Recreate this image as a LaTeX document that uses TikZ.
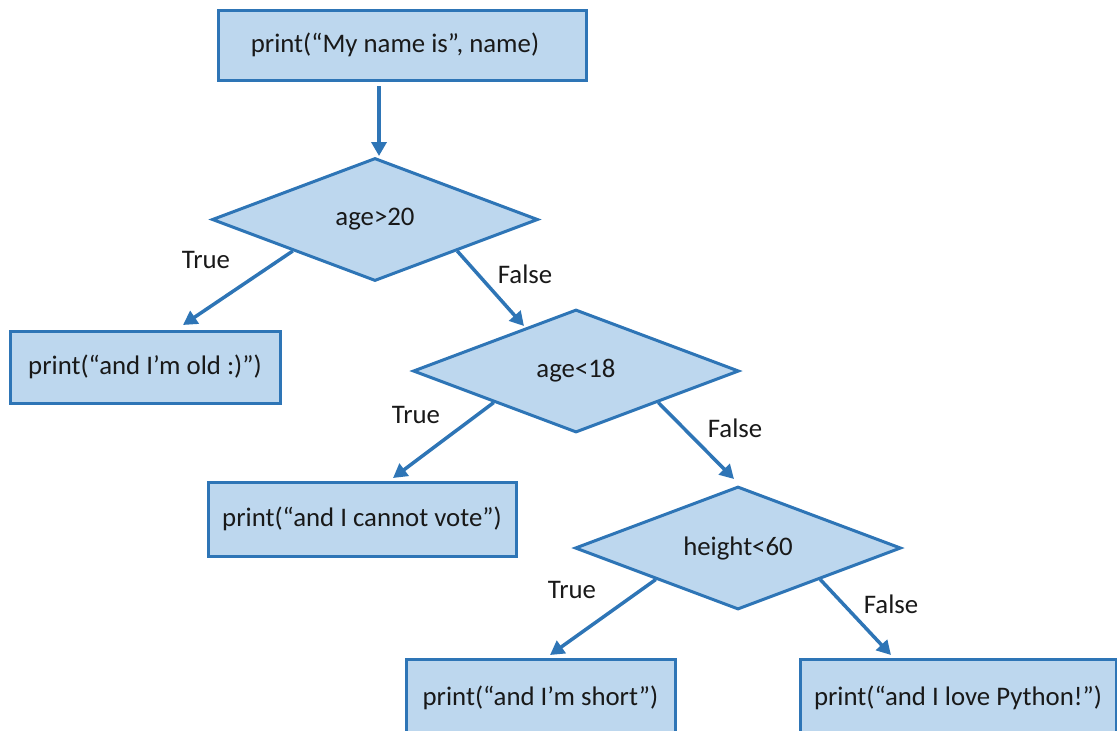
\documentclass[tikz,border=0pt]{standalone}
\usepackage{fontspec}
\setmainfont{Carlito}
\usetikzlibrary{shapes.geometric,arrows.meta}
\definecolor{boxfill}{RGB}{189,215,238}
\definecolor{boxline}{RGB}{46,117,182}
\begin{document}
\begin{tikzpicture}[x=0.5pt,y=-0.5pt,
  txt/.style={font=\fontsize{13.4}{15}\selectfont, text=black!90},
  pbox/.style={txt, draw=boxline, fill=boxfill, line width=1.5pt, rectangle, inner sep=0pt},
  dbox/.style={txt, draw=boxline, fill=boxfill, line width=1.5pt, diamond, shape aspect=2.65,
    inner sep=0pt, minimum width=163pt, minimum height=61.5pt},
  conn/.style={draw=boxline, line width=1.75pt, -{Triangle[length=7pt,width=7.5pt]}},
  lbl/.style={txt, inner sep=0pt}]
\useasboundingbox (0,0) rectangle (1117,730);

% boxes
\node[pbox, minimum width=184pt, minimum height=35pt] (b1) at (402,45) {\hspace*{-7pt}print(“My name is”, name)};
\node[pbox, minimum width=135pt, minimum height=36pt] (b2) at (145,367) {print(“and I’m old :)”)};
\node[pbox, minimum width=154pt, minimum height=37pt] (b3) at (362,519) {print(“and I cannot vote”)};
\node[pbox, minimum width=134.5pt, minimum height=42pt] (b4) at (540.5,701) {\raisebox{5pt}{print(“and I’m short”)}};
\node[pbox, minimum width=158pt, minimum height=42pt] (b5) at (958,701) {\raisebox{5pt}{print(“and I love Python!”)}};

% decisions
\node[dbox] (d1) at (375,219.5) {\raisebox{2pt}{age>20}};
\node[dbox] (d2) at (576,371) {age<18};
\node[dbox] (d3) at (738,548) {height<60};

% arrow end points
\coordinate (a0s) at (379,86);
\coordinate (a0e) at (379,156);
\coordinate (t1) at (183,325);
\coordinate (f1) at (524,326);
\coordinate (t2) at (393,478);
\coordinate (f2) at (734,479);
\coordinate (t3) at (550,655);
\coordinate (f3) at (891,655);

\draw[conn] (a0s) -- (a0e);
\draw[conn] (d1.south west) -- (t1);
\draw[conn] (d1.south east) -- (f1);
\draw[conn] (d2.south west) -- (t2);
\draw[conn] (d2.south east) -- (f2);
\draw[conn] (d3.south west) -- (t3);
\draw[conn] (d3.south east) -- (f3);

% labels
\node[lbl] (lt1) at (206,260) {True};
\node[lbl] (lf1) at (525,274) {False};
\node[lbl] (lt2) at (416,415) {True};
\node[lbl] (lf2) at (735,428) {False};
\node[lbl] (lt3) at (572,590) {True};
\node[lbl] (lf3) at (891,604) {False};
\end{tikzpicture}
\end{document}
